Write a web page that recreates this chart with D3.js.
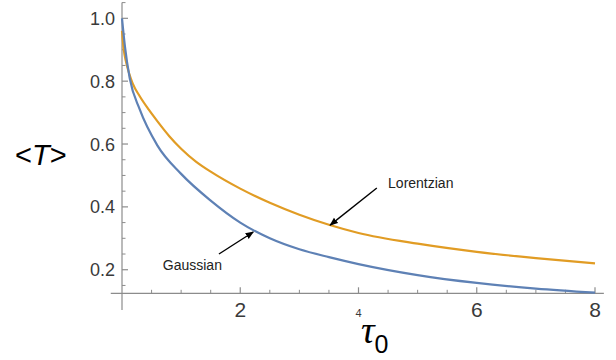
<!DOCTYPE html>
<html>
<head>
<meta charset="utf-8">
<script src="https://cdn.jsdelivr.net/npm/d3@7"></script>
<style>
  body { margin: 0; background: #fff; }
  svg { display: block; }
</style>
</head>
<body>
<div id="chart"></div>
<script>
// values
const tauG = [0, 0.05, 0.13, 0.3, 0.6, 1.0, 1.5, 2.0, 2.5, 3.0, 3.5, 4.0, 5.0, 6.0, 7.0, 8.0];
const gaussian = [1.0, 0.91, 0.81, 0.71, 0.595, 0.505, 0.42, 0.35, 0.30, 0.265, 0.24, 0.218, 0.183, 0.158, 0.14, 0.127];

const tauL = [0, 0.03, 0.07, 0.12, 0.18, 0.3, 0.45, 0.6, 0.8, 1.0, 1.25, 1.5, 2.0, 2.5, 3.0, 3.5, 4.0, 5.0, 6.0, 7.0, 8.0];
const lorentzian = [0.96, 0.90, 0.86, 0.825, 0.793, 0.752, 0.71, 0.672, 0.625, 0.585, 0.544, 0.512, 0.458, 0.413, 0.375, 0.343, 0.317, 0.283, 0.257, 0.237, 0.220];

const xMajor = [2, 4, 6, 8];
const xMinor = [0.5, 1, 1.5, 2.5, 3, 3.5, 4.5, 5, 5.5, 6.5, 7, 7.5];
const yMajor = [0.2, 0.4, 0.6, 0.8, 1.0];
const yMinor = [0.15, 0.25, 0.3, 0.35, 0.45, 0.5, 0.55, 0.65, 0.7, 0.75, 0.85, 0.9, 0.95, 1.05];

// annotations: label, text anchor point, arrow tail, arrow tip (data units)
const notes = [
    { label: "Lorentzian", text: [4.5, 0.46], from: [4.31, 0.46], to: [3.52, 0.342] },
    { label: "Gaussian", text: [0.69, 0.199], from: [1.64, 0.25], to: [2.22, 0.32] }
];

const width = 616, height = 360;

const x = d3.scaleLinear().domain([0, 8]).range([122, 595]);
const y = d3.scaleLinear().domain([0.125, 1.05]).range([293.3, 2.6]);

const svg = d3.select("#chart").append("svg")
    .attr("width", width)
    .attr("height", height);

svg.append("defs").append("marker")
    .attr("id", "arrow")
    .attr("viewBox", "0 0 10 10")
    .attr("refX", 9).attr("refY", 5)
    .attr("markerWidth", 6).attr("markerHeight", 6)
    .attr("orient", "auto")
    .append("path")
    .attr("d", "M0,1 L10,5 L0,9 Z")
    .attr("fill", "#000");

const axisColor = "#8c8c8c";

// axes lines (Mathematica style, overshooting a bit)
svg.append("line")
    .attr("x1", x(-0.19)).attr("x2", x(8.15))
    .attr("y1", y(0.125)).attr("y2", y(0.125))
    .attr("stroke", axisColor).attr("stroke-width", 1.2);
svg.append("line")
    .attr("x1", x(0)).attr("x2", x(0))
    .attr("y1", y(1.05)).attr("y2", y(0.072))
    .attr("stroke", axisColor).attr("stroke-width", 1.2);

// x ticks
svg.selectAll(".xmaj").data(xMajor).join("line")
    .attr("x1", d => x(d)).attr("x2", d => x(d))
    .attr("y1", y(0.125)).attr("y2", y(0.125) - 6)
    .attr("stroke", axisColor).attr("stroke-width", 1.2);
svg.selectAll(".xmin").data(xMinor).join("line")
    .attr("x1", d => x(d)).attr("x2", d => x(d))
    .attr("y1", y(0.125)).attr("y2", y(0.125) - 3.5)
    .attr("stroke", axisColor).attr("stroke-width", 1);

// y ticks
svg.selectAll(".ymaj").data(yMajor).join("line")
    .attr("x1", x(0)).attr("x2", x(0) + 6)
    .attr("y1", d => y(d)).attr("y2", d => y(d))
    .attr("stroke", axisColor).attr("stroke-width", 1.2);
svg.selectAll(".ymin").data(yMinor).join("line")
    .attr("x1", x(0)).attr("x2", x(0) + 3.5)
    .attr("y1", d => y(d)).attr("y2", d => y(d))
    .attr("stroke", axisColor).attr("stroke-width", 1);

// tick labels
svg.selectAll(".ylab").data(yMajor).join("text")
    .attr("x", x(0) - 7)
    .attr("y", d => y(d) + 6.5)
    .attr("text-anchor", "end")
    .attr("font-family", "Liberation Sans, Arial, sans-serif")
    .attr("font-size", 18)
    .attr("fill", "#3a3a3a")
    .text(d => d.toFixed(1));

svg.selectAll(".xlab").data(xMajor).join("text")
    .attr("x", d => x(d))
    .attr("y", 317)
    .attr("text-anchor", "middle")
    .attr("font-family", "Liberation Sans, Arial, sans-serif")
    .attr("font-size", d => d === 4 ? 11 : 21)
    .attr("fill", "#3a3a3a")
    .text(d => d);

// curves
const line = t => d3.line()
    .x((d, i) => x(t[i]))
    .y(d => y(d))
    .curve(d3.curveMonotoneX);

svg.append("path").datum(lorentzian)
    .attr("d", line(tauL))
    .attr("fill", "none")
    .attr("stroke", "#e19c24")
    .attr("stroke-width", 2.2);

svg.append("path").datum(gaussian)
    .attr("d", line(tauG))
    .attr("fill", "none")
    .attr("stroke", "#5e81b5")
    .attr("stroke-width", 2.2);

// annotations
svg.selectAll(".note-arrow").data(notes).join("line")
    .attr("x1", d => x(d.from[0])).attr("y1", d => y(d.from[1]))
    .attr("x2", d => x(d.to[0])).attr("y2", d => y(d.to[1]))
    .attr("stroke", "#000").attr("stroke-width", 1.4)
    .attr("marker-end", "url(#arrow)");

svg.selectAll(".note-text").data(notes).join("text")
    .attr("x", d => x(d.text[0]))
    .attr("y", d => y(d.text[1]))
    .attr("font-family", "Liberation Sans, Arial, sans-serif")
    .attr("font-size", 14)
    .attr("fill", "#222")
    .text(d => d.label);

// axis labels
const yLabel = svg.append("text")
    .attr("x", 15).attr("y", 165)
    .attr("font-family", "Liberation Sans, Arial, sans-serif")
    .attr("font-size", 29)
    .attr("fill", "#000");
yLabel.append("tspan").text("<");
yLabel.append("tspan").attr("font-style", "italic").text("T");
yLabel.append("tspan").text(">");

const xLabel = svg.append("text")
    .attr("x", 361).attr("y", 343)
    .attr("fill", "#000");
xLabel.append("tspan")
    .attr("font-family", "Liberation Serif, serif")
    .attr("font-style", "italic")
    .attr("font-size", 38)
    .text("τ");
xLabel.append("tspan")
    .attr("font-family", "Liberation Sans, Arial, sans-serif")
    .attr("font-size", 25)
    .attr("dy", 10)
    .text("0");
</script>
</body>
</html>
